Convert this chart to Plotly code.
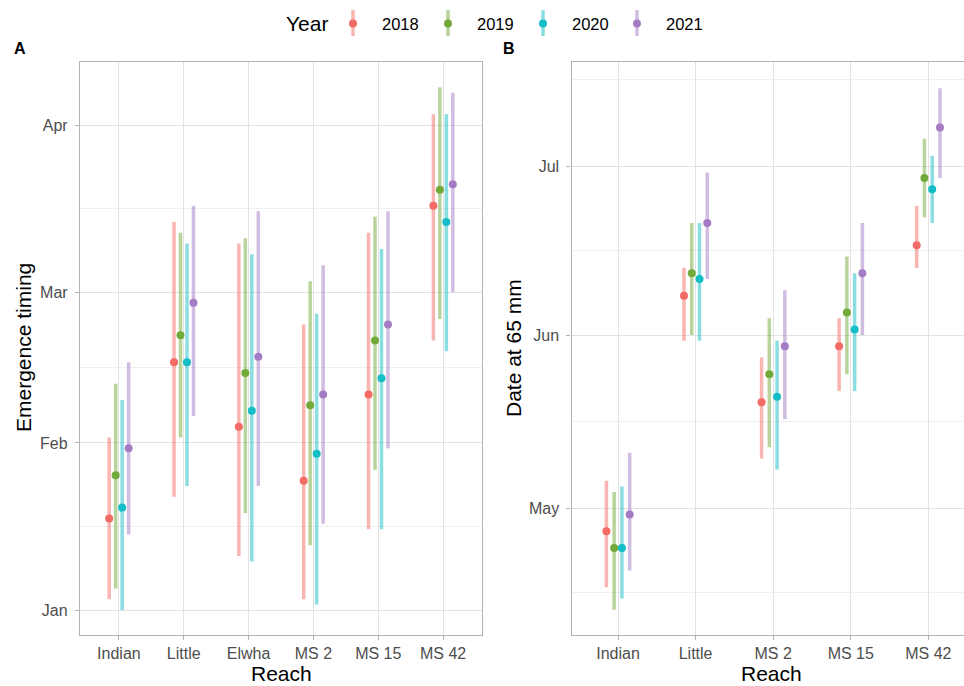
import plotly.graph_objects as go

# ---------------- data ----------------
years = ["2018", "2019", "2020", "2021"]
colors = ["#F26B64", "#72AA3A", "#15BDC6", "#A47CC4"]
bar_colors = ["rgba(242,107,100,0.5)", "rgba(114,170,58,0.5)",
              "rgba(21,189,198,0.5)", "rgba(164,124,196,0.5)"]
base_year = "2021"

# Panel A: emergence timing (MM-DD)
reaches_a = ["Indian", "Little", "Elwha", "MS 2", "MS 15", "MS 42"]
a_mid = {
    "2018": ["01-18", "02-16", "02-04", "01-25", "02-10", "03-17"],
    "2019": ["01-26", "02-21", "02-14", "02-08", "02-20", "03-20"],
    "2020": ["01-20", "02-16", "02-07", "01-30", "02-13", "03-14"],
    "2021": ["01-31", "02-27", "02-17", "02-10", "02-23", "03-21"],
}
a_lo = {
    "2018": ["01-03", "01-22", "01-11", "01-03", "01-16", "02-20"],
    "2019": ["01-05", "02-02", "01-19", "01-13", "01-27", "02-24"],
    "2020": ["01-01", "01-24", "01-10", "01-02", "01-16", "02-18"],
    "2021": ["01-15", "02-06", "01-24", "01-17", "01-31", "03-01"],
}
a_hi = {
    "2018": ["02-02", "03-14", "03-10", "02-23", "03-12", "04-03"],
    "2019": ["02-12", "03-12", "03-11", "03-03", "03-15", "04-08"],
    "2020": ["02-09", "03-10", "03-08", "02-25", "03-09", "04-03"],
    "2021": ["02-16", "03-17", "03-16", "03-06", "03-16", "04-07"],
}

# Panel B: date at 65 mm (MM-DD)
reaches_b = ["Indian", "Little", "MS 2", "MS 15", "MS 42"]
b_mid = {
    "2018": ["04-27", "06-08", "05-20", "05-30", "06-17"],
    "2019": ["04-24", "06-12", "05-25", "06-05", "06-29"],
    "2020": ["04-24", "06-11", "05-21", "06-02", "06-27"],
    "2021": ["04-30", "06-21", "05-30", "06-12", "07-08"],
}
b_lo = {
    "2018": ["04-17", "05-31", "05-10", "05-22", "06-13"],
    "2019": ["04-13", "06-01", "05-12", "05-25", "06-22"],
    "2020": ["04-15", "05-31", "05-08", "05-22", "06-21"],
    "2021": ["04-20", "06-11", "05-17", "06-01", "06-29"],
}
b_hi = {
    "2018": ["05-06", "06-13", "05-28", "06-04", "06-24"],
    "2019": ["05-04", "06-21", "06-04", "06-15", "07-06"],
    "2020": ["05-05", "06-21", "05-31", "06-12", "07-03"],
    "2021": ["05-11", "06-30", "06-09", "06-21", "07-15"],
}

a_ticks = ["01-01", "02-01", "03-01", "04-01"]
a_ticktext = ["Jan", "Feb", "Mar", "Apr"]
b_ticks = ["05-01", "06-01", "07-01"]
b_ticktext = ["May", "Jun", "Jul"]

# ---------------- helpers ----------------
W, H = 964, 686
offsets = [-0.15, -0.05, 0.05, 0.15]


def d(s):
    return f"{base_year}-{s}"


def px(x):
    return x / W


def py(y):
    return 1 - y / H


fig = go.Figure()


def add_panel(reaches, mid, lo, hi, xa, ya):
    for k, yr in enumerate(years):
        xs, ys = [], []
        for i in range(len(reaches)):
            x = i + offsets[k]
            xs += [x, x, None]
            ys += [d(lo[yr][i]), d(hi[yr][i]), None]
        fig.add_trace(go.Scatter(x=xs, y=ys, mode="lines",
                                 line=dict(color=bar_colors[k], width=3.5),
                                 xaxis=xa, yaxis=ya, showlegend=False,
                                 hoverinfo="skip"))
    for k, yr in enumerate(years):
        xs = [i + offsets[k] for i in range(len(reaches))]
        ys = [d(v) for v in mid[yr]]
        fig.add_trace(go.Scatter(x=xs, y=ys, mode="markers",
                                 marker=dict(color=colors[k], size=8),
                                 xaxis=xa, yaxis=ya, showlegend=False,
                                 name=yr))


add_panel(reaches_a, a_mid, a_lo, a_hi, "x", "y")
add_panel(reaches_b, b_mid, b_lo, b_hi, "x2", "y2")

FONT = "Liberation Sans, Arial, sans-serif"
border = "#B3B3B3"
grid_major = "#E2E2E2"
grid_minor = "#EFEFEF"
tickfont = dict(family=FONT, size=16, color="#4D4D4D")

common_x = dict(showgrid=True, gridcolor=grid_major, gridwidth=1,
                zeroline=False, showline=True, linecolor=border, linewidth=1.3,
                ticks="outside", ticklen=4, tickcolor=border, tickwidth=1,
                tickfont=tickfont, fixedrange=True)
common_y = dict(type="date", showgrid=True, gridcolor=grid_major, gridwidth=1,
                zeroline=False, showline=True, linecolor=border, linewidth=1.3,
                ticks="outside", ticklen=4, tickcolor=border, tickwidth=1,
                tickfont=tickfont, ticklabelstandoff=4, fixedrange=True)

fig.update_layout(
    width=W, height=H,
    margin=dict(l=0, r=0, t=0, b=0),
    paper_bgcolor="white", plot_bgcolor="white",
    font=dict(family=FONT, color="black"),
    showlegend=False,
    xaxis=dict(domain=[px(80), px(482)], range=[-0.6, 5.6],
               tickvals=list(range(len(reaches_a))), ticktext=reaches_a,
               anchor="y", mirror=True, **common_x),
    yaxis=dict(domain=[py(635), py(62)],
               range=["2020-12-27 08:38", "2021-04-12 16:48"],
               tickvals=[d(t) for t in a_ticks], ticktext=a_ticktext,
               minor=dict(tickvals=["2021-01-16 12:00", "2021-02-15 00:00",
                                    "2021-03-16 12:00"],
                          showgrid=True, gridcolor=grid_minor, gridwidth=1),
               anchor="x", mirror=True, **common_y),
    xaxis2=dict(domain=[px(571.5), 1.0], range=[-0.6, 4.46],
                tickvals=list(range(len(reaches_b))), ticktext=reaches_b,
                anchor="y2", mirror=True, **common_x),
    yaxis2=dict(domain=[py(635), py(62)],
                range=["2021-04-08 12:00", "2021-07-19 16:48"],
                tickvals=[d(t) for t in b_ticks], ticktext=b_ticktext,
                minor=dict(tickvals=["2021-04-16 00:00", "2021-05-16 12:00",
                                     "2021-06-16 00:00", "2021-07-16 12:00"],
                           showgrid=True, gridcolor=grid_minor, gridwidth=1),
                anchor="x2", mirror=False, **common_y),
)

ann = []
title_font = dict(family=FONT, size=21, color="black")
# axis titles
ann.append(dict(text="Reach", x=px(281), y=py(686), xref="paper", yref="paper",
                showarrow=False, font=title_font, xanchor="center", yanchor="bottom",
                borderpad=0))
ann.append(dict(text="Reach", x=px(771), y=py(686), xref="paper", yref="paper",
                showarrow=False, font=title_font, xanchor="center", yanchor="bottom",
                borderpad=0))
ann.append(dict(text="Emergence timing", x=px(23), y=py(348), xref="paper", yref="paper",
                showarrow=False, font=title_font, textangle=-90,
                xanchor="center", yanchor="middle"))
ann.append(dict(text="Date at 65 mm", x=px(513), y=py(348), xref="paper", yref="paper",
                showarrow=False, font=title_font, textangle=-90,
                xanchor="center", yanchor="middle"))
# panel tags
tag_font = dict(family=FONT, size=16, color="black")
ann.append(dict(text="<b>A</b>", x=px(20), y=py(49), xref="paper", yref="paper",
                showarrow=False, font=tag_font, xanchor="center", yanchor="middle"))
ann.append(dict(text="<b>B</b>", x=px(509), y=py(49), xref="paper", yref="paper",
                showarrow=False, font=tag_font, xanchor="center", yanchor="middle"))

# manual legend
ann.append(dict(text="Year", x=px(307), y=py(24), xref="paper", yref="paper",
                showarrow=False, font=dict(family=FONT, size=21, color="black"),
                xanchor="center", yanchor="middle"))
legend_x = [353, 448, 543, 637]
shapes = []
for k, yr in enumerate(years):
    cx = legend_x[k]
    shapes.append(dict(type="line", xref="paper", yref="paper",
                       x0=px(cx), x1=px(cx), y0=py(10), y1=py(36),
                       line=dict(color=bar_colors[k], width=3.5)))
    shapes.append(dict(type="circle", xref="paper", yref="paper",
                       xsizemode="pixel", ysizemode="pixel",
                       xanchor=px(cx), yanchor=py(23.5),
                       x0=-4, x1=4, y0=-4, y1=4,
                       fillcolor=colors[k], line=dict(width=0)))
    ann.append(dict(text=yr, x=px(cx + 27), y=py(24), xref="paper", yref="paper",
                    showarrow=False, font=dict(family=FONT, size=16.5, color="black"),
                    xanchor="left", yanchor="middle"))

fig.update_layout(annotations=ann, shapes=shapes)

fig.write_html(
    "out.html",
    config={"displayModeBar": False},
    post_script="document.body.style.margin='0px';"
                "document.body.style.padding='0px';"
                "document.documentElement.style.overflow='hidden';",
)
